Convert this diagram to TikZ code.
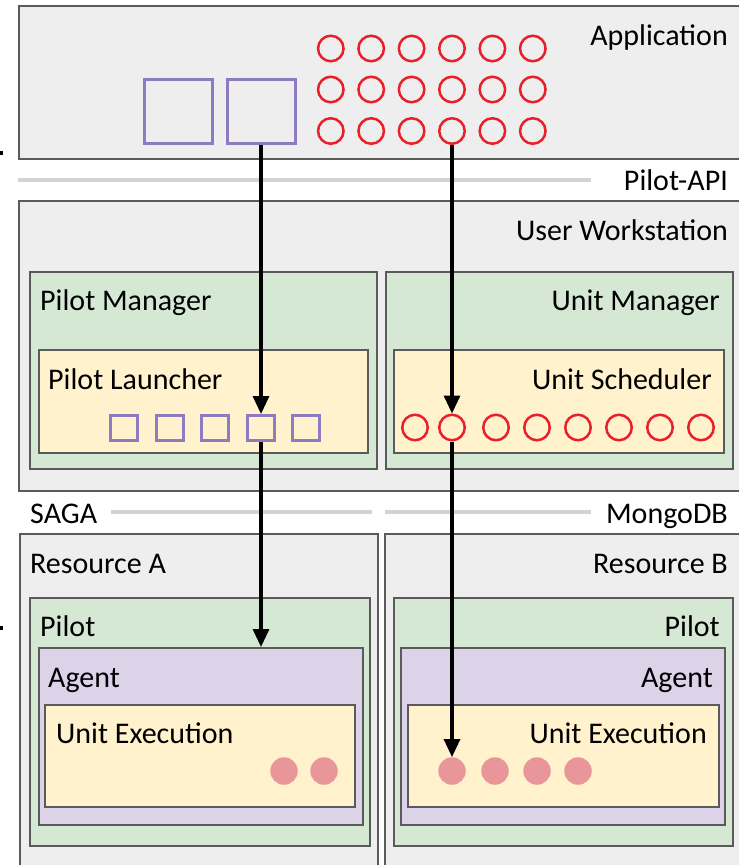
\documentclass[tikz,border=0pt]{standalone}
\usepackage{fontspec}
\setmainfont{Carlito}
\usetikzlibrary{arrows.meta}
\definecolor{boxgray}{HTML}{EEEEEE}
\definecolor{edgegray}{HTML}{5A5A5A}
\definecolor{mgreen}{HTML}{D5E8D4}
\definecolor{mcream}{HTML}{FFF2CC}
\definecolor{mlav}{HTML}{DCD3E8}
\definecolor{mpurple}{HTML}{8E7CC3}
\definecolor{mred}{HTML}{E8202A}
\definecolor{mpink}{HTML}{E8969A}
\definecolor{mline}{HTML}{D3D3D3}
\tikzset{
  box/.style={draw=edgegray, line width=1.5pt, inner sep=0pt, anchor=north west, rectangle},
  graybox/.style={box, fill=boxgray},
  greenbox/.style={box, fill=mgreen},
  creambox/.style={box, fill=mcream},
  lavbox/.style={box, fill=mlav},
  lbl/.style={inner sep=0pt, font=\fontsize{30}{36}\selectfont, text=black},
  lblL/.style={lbl, anchor=base west},
  lblR/.style={lbl, anchor=base east},
  sepline/.style={draw=mline, line width=4pt},
  bigsq/.style={draw=mpurple, line width=3pt, rectangle, inner sep=0pt, minimum width=68pt, minimum height=64pt},
  smallsq/.style={draw=mpurple, line width=3pt, rectangle, inner sep=0pt, minimum width=27pt, minimum height=25pt},
  ocirc/.style={draw=mred, line width=2.5pt, circle, inner sep=0pt, minimum size=25.5pt},
  pdot/.style={fill=mpink, circle, inner sep=0pt, minimum size=27.5pt},
  conn/.style={draw=black, line width=3.2pt, -{Triangle[length=18pt,width=16pt]}}
}
\begin{document}
\begin{tikzpicture}[x=1pt,y=-1pt]
\useasboundingbox (0,0) rectangle (739,865);
\fill[white] (0,0) rectangle (739,865);
% boxes
\node[graybox, minimum width=732pt, minimum height=153pt] (app) at (18,5) {};
\node[graybox, minimum width=732pt, minimum height=290pt] (ws) at (18,200) {};
\node[greenbox, minimum width=347pt, minimum height=197pt] (pm) at (29,271) {};
\node[greenbox, minimum width=347pt, minimum height=197pt] (um) at (385,271) {};
\node[creambox, minimum width=329pt, minimum height=103pt] (pl) at (38,349) {};
\node[creambox, minimum width=330pt, minimum height=103pt] (us) at (393,349) {};
\node[graybox, minimum width=358pt, minimum height=345pt] (resA) at (19,533) {};
\node[graybox, minimum width=366pt, minimum height=345pt] (resB) at (384,533) {};
\node[greenbox, minimum width=340pt, minimum height=248pt] (pilA) at (29,597) {};
\node[greenbox, minimum width=339pt, minimum height=248pt] (pilB) at (393,597) {};
\node[lavbox, minimum width=324pt, minimum height=177pt] (agA) at (38,647) {};
\node[lavbox, minimum width=324pt, minimum height=177pt] (agB) at (400,647) {};
\node[creambox, minimum width=310pt, minimum height=102pt] (ueA) at (44,704) {};
\node[creambox, minimum width=311pt, minimum height=102pt] (ueB) at (407,704) {};
% left ticks
\fill[black] (0,151) rectangle (3,155);
\fill[black] (0,626) rectangle (3,630);
% separator lines
\node[lblR] (api) at (728,190) {Pilot-API};
\node[lblL] (saga) at (30,523) {SAGA};
\node[lblR] (mongo) at (728,523) {MongoDB};
\draw[sepline] (18,180) -- (591,180);
\draw[sepline] (111,512) -- (372,512);
\draw[sepline] (385,512) -- (591,512);
% labels
\node[lblR] (tapp) at (728,45) {Application};
\node[lblR] (tws) at (728,240) {User Workstation};
\node[lblL] (tpm) at (40,310) {Pilot Manager};
\node[lblR] (tum) at (720,310) {Unit Manager};
\node[lblL] (tpl) at (48,389) {Pilot Launcher};
\node[lblR] (tus) at (712,389) {Unit Scheduler};
\node[lblL] (tra) at (30,573) {Resource A};
\node[lblR] (trb) at (728,573) {Resource B};
\node[lblL] (tpa) at (40,636) {Pilot};
\node[lblR] (tpb) at (720,636) {Pilot};
\node[lblL] (taa) at (48,687) {Agent};
\node[lblR] (tab) at (713,687) {Agent};
\node[lblL] (tua) at (56,743) {Unit Execution};
\node[lblR] (tub) at (707,743) {Unit Execution};
% application contents
\node[bigsq] (sq1) at (178.5,111.5) {};
\node[bigsq] (sq2) at (261,111.5) {};
\foreach \i/\x in {1/330.8,2/371.2,3/411.6,4/452,5/492.4,6/532.8}
  \foreach \j/\y in {1/48.5,2/89.5,3/131}
    \node[ocirc] (c\j\i) at (\x,\y) {};
% pilot launcher squares
\foreach \i/\x in {1/124,2/169.5,3/215,4/261,5/306}
  \node[smallsq] (ps\i) at (\x,428) {};
% unit scheduler circles
\foreach \i/\x in {1/415,2/452,3/496,4/537,5/578,6/619,7/660,8/701}
  \node[ocirc] (sc\i) at (\x,427.5) {};
% unit execution dots
\foreach \i/\x in {1/284,2/324}
  \node[pdot] (pA\i) at (\x,771) {};
\foreach \i/\x in {1/452,2/495,3/537,4/578}
  \node[pdot] (pB\i) at (\x,771) {};
% arrows
\draw[conn] (sq2.south) -- (ps4.north);
\draw[conn] (ps4.south) -- (ps4.south |- agA.north);
\draw[conn] (c34.south) -- (sc2.north);
\draw[conn] (sc2.south) -- (pB1.north);
\end{tikzpicture}
\end{document}
